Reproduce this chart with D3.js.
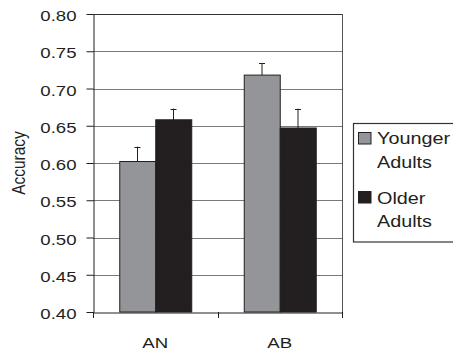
<!DOCTYPE html>
<html>
<head>
<meta charset="utf-8">
<script src="https://cdn.jsdelivr.net/npm/d3@7"></script>
<style>
  html, body { margin: 0; padding: 0; background: #fff; }
  svg { display: block; }
  text { font-family: "Liberation Sans", Arial, sans-serif; fill: #231f20; }
</style>
</head>
<body>
<script>
const categories = ["AN", "AB"];
const seriesNames = ["Younger Adults", "Older Adults"];
const youngerValues = [0.602, 0.718];
const olderValues = [0.658, 0.647];
const youngerErrors = [0.020, 0.016];
const olderErrors = [0.015, 0.026];
const yTicks = [0.40, 0.45, 0.50, 0.55, 0.60, 0.65, 0.70, 0.75, 0.80];
const legendLines = [["Younger", "Adults"], ["Older", "Adults"]];
const colors = ["#939598", "#231f20"];

const W = 453, H = 353;
const mLeft = 93, mRight = 342, mTop = 14, mBottom = 312;
const SX = 1.2;

const svg = d3.select("body").append("svg").attr("width", W).attr("height", H);

const x0 = d3.scaleBand().domain(categories).range([mLeft, mRight]).padding(0);
const bw = x0.bandwidth();
const groupW = 72;
const x1 = d3.scaleBand().domain(seriesNames)
  .range([(bw - groupW) / 2, (bw + groupW) / 2]).padding(0);
const y = d3.scaleLinear().domain([0.4, 0.8]).range([mBottom, mTop]);

// gridlines
svg.append("g").selectAll("line").data(yTicks.filter(t => t > 0.4 && t < 0.8)).join("line")
  .attr("x1", mLeft).attr("x2", mRight)
  .attr("y1", d => Math.round(y(d)) + 0.5).attr("y2", d => Math.round(y(d)) + 0.5)
  .attr("stroke", "#7a7a7a").attr("stroke-width", 1);

// top & right border
svg.append("line").attr("x1", mLeft).attr("x2", mRight + 0.5)
  .attr("y1", Math.round(y(0.8)) + 0.5).attr("y2", Math.round(y(0.8)) + 0.5)
  .attr("stroke", "#333").attr("stroke-width", 1);
svg.append("line").attr("x1", mRight + 0.5).attr("x2", mRight + 0.5)
  .attr("y1", y(0.8)).attr("y2", mBottom)
  .attr("stroke", "#555").attr("stroke-width", 1);

// data
const data = categories.map((c, i) => ({
  cat: c,
  vals: [
    { s: seriesNames[0], v: youngerValues[i], e: youngerErrors[i], c: colors[0] },
    { s: seriesNames[1], v: olderValues[i], e: olderErrors[i], c: colors[1] }
  ]
}));

const groups = svg.append("g").selectAll("g").data(data).join("g")
  .attr("transform", d => `translate(${x0(d.cat)},0)`);

// error bars (behind bars)
groups.selectAll("g.err").data(d => d.vals).join("g").attr("class", "err")
  .each(function(d) {
    const g = d3.select(this);
    const cx = Math.round(x1(d.s) + x1.bandwidth() / 2) + 0.5;
    g.append("line").attr("x1", cx).attr("x2", cx)
      .attr("y1", y(d.v)).attr("y2", y(d.v + d.e))
      .attr("stroke", "#231f20").attr("stroke-width", 1);
    g.append("line").attr("x1", cx - 3).attr("x2", cx + 3)
      .attr("y1", Math.round(y(d.v + d.e)) + 0.5).attr("y2", Math.round(y(d.v + d.e)) + 0.5)
      .attr("stroke", "#231f20").attr("stroke-width", 1);
  });

groups.selectAll("rect").data(d => d.vals).join("rect")
  .attr("x", d => x1(d.s) + 0.5)
  .attr("width", x1.bandwidth())
  .attr("y", d => y(d.v))
  .attr("height", d => mBottom - y(d.v))
  .attr("fill", d => d.c)
  .attr("stroke", "#231f20").attr("stroke-width", 1);

// y axis
const yAxis = svg.append("g").attr("transform", `translate(${mLeft + 0.5},0)`)
  .call(d3.axisLeft(y).tickValues(yTicks).tickFormat(d3.format(".2f")).tickSize(7).tickSizeOuter(0));
yAxis.select(".domain").attr("stroke", "#231f20");
yAxis.selectAll(".tick line").attr("stroke", "#231f20");
yAxis.selectAll(".tick text")
  .attr("x", 0).attr("dy", null)
  .attr("transform", "translate(-17,6.5) scale(" + SX + ",1)")
  .attr("text-anchor", "end")
  .style("font-size", "15.5px").style("font-family", "'Liberation Sans', Arial, sans-serif")
  .attr("fill", "#231f20");

// x axis
const xAxis = svg.append("g").attr("transform", `translate(0,${mBottom + 0.5})`)
  .call(d3.axisBottom(x0).tickSize(0).tickSizeOuter(0));
xAxis.select(".domain").attr("stroke", "#231f20");
xAxis.selectAll(".tick text")
  .attr("y", 0).attr("dy", null)
  .attr("transform", "translate(0,35.5) scale(" + SX + ",1)")
  .style("font-size", "15.5px").style("font-family", "'Liberation Sans', Arial, sans-serif")
  .attr("fill", "#231f20");
// category separator ticks
const sepTicks = [mLeft, mLeft + bw, mRight];
svg.append("g").selectAll("line").data(sepTicks).join("line")
  .attr("x1", d => Math.round(d) + 0.5).attr("x2", d => Math.round(d) + 0.5)
  .attr("y1", mBottom).attr("y2", mBottom + 6)
  .attr("stroke", "#231f20").attr("stroke-width", 1);

// y axis title
svg.append("text")
  .attr("transform", `translate(25,${(mTop + mBottom) / 2}) scale(${SX},1) rotate(-90)`)
  .attr("text-anchor", "middle")
  .style("font-size", "15.5px")
  .text("Accuracy");

// legend
const lg = svg.append("g");
lg.append("rect").attr("x", 353.5).attr("y", 123.5).attr("width", 120).attr("height", 118.5)
  .attr("fill", "#fff").attr("stroke", "#333").attr("stroke-width", 1.2);
const swY = [132, 191];
const lineY = [[144, 167.5], [203.5, 227]];
seriesNames.forEach((s, i) => {
  lg.append("rect").attr("x", 358.5).attr("y", swY[i] + 0.5).attr("width", 12.5).attr("height", 11.5)
    .attr("fill", colors[i]).attr("stroke", "#231f20").attr("stroke-width", 1);
  legendLines[i].forEach((t, j) => {
    lg.append("text")
      .attr("transform", `translate(377,${lineY[i][j]}) scale(${SX},1)`)
      .style("font-size", "16.5px")
      .text(t);
  });
});
</script>
</body>
</html>
